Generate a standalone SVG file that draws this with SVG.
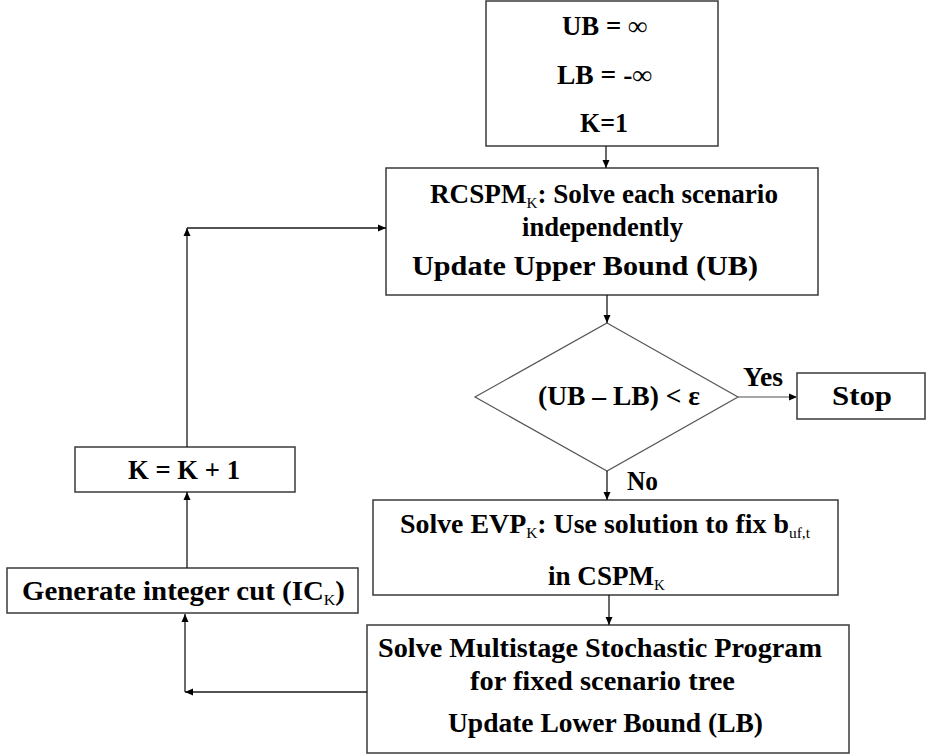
<svg xmlns="http://www.w3.org/2000/svg" width="927" height="756" viewBox="0 0 927 756">
  <style>
    .box { fill: #ffffff; stroke: #3a3a3a; stroke-width: 1.5; }
    .dia { fill: #ffffff; stroke: #555555; stroke-width: 1.2; }
    .t { font-family: "Liberation Serif", "Times New Roman", serif; font-weight: bold; font-size: 27px; fill: #000000; }
    .mid { text-anchor: middle; }
    .sub { font-weight: normal; font-size: 15px; }
    .wire { fill: none; stroke: #1a1a1a; stroke-width: 1.3; }
    .wire-light { fill: none; stroke: #8a8a8a; stroke-width: 1.3; }
  </style>
  <defs>
    <marker id="arrow" viewBox="0 0 8 8" refX="8" refY="4" markerWidth="8" markerHeight="8" markerUnits="userSpaceOnUse" orient="auto">
      <path d="M0,0.5 L8,4 L0,7.5 z" fill="#000000"/>
    </marker>
  </defs>

  <rect width="927" height="756" fill="#ffffff"/>

  <!-- initialisation -->
  <g id="init">
    <rect class="box" x="486" y="1" width="232" height="145"/>
    <text class="t" x="562" y="35" textLength="85" lengthAdjust="spacingAndGlyphs">UB = ∞</text>
    <text class="t" x="557" y="84" textLength="95" lengthAdjust="spacingAndGlyphs">LB = -∞</text>
    <text class="t" x="580" y="132" textLength="48" lengthAdjust="spacingAndGlyphs">K=1</text>
  </g>

  <!-- relaxed problem, upper bound -->
  <g id="rcspm">
    <rect class="box" x="386" y="168" width="432" height="127"/>
    <text class="t" x="430" y="203" textLength="348" lengthAdjust="spacingAndGlyphs">RCSPM<tspan class="sub" dy="5">K</tspan><tspan dy="-5">: Solve each scenario</tspan></text>
    <text class="t" x="522" y="236" textLength="161" lengthAdjust="spacingAndGlyphs">independently</text>
    <text class="t" x="412" y="275" textLength="346" lengthAdjust="spacingAndGlyphs">Update Upper Bound (UB)</text>
  </g>

  <!-- convergence test -->
  <g id="check">
    <polygon class="dia" points="607,323 738,397 607,471 475,397"/>
    <text class="t" x="538" y="405" textLength="162" lengthAdjust="spacingAndGlyphs">(UB – LB) &lt; ε</text>
  </g>

  <g id="stop">
    <rect class="box" x="797" y="373" width="128" height="46"/>
    <text class="t" x="832" y="405" textLength="60" lengthAdjust="spacingAndGlyphs">Stop</text>
  </g>

  <!-- expected value problem -->
  <g id="evp">
    <rect class="box" x="373" y="500" width="465" height="95"/>
    <text class="t" x="400" y="533" textLength="410" lengthAdjust="spacingAndGlyphs">Solve EVP<tspan class="sub" dy="5">K</tspan><tspan dy="-5">: Use solution to fix b</tspan><tspan class="sub" dy="5">uf,t</tspan></text>
    <text class="t" x="548" y="585" textLength="117" lengthAdjust="spacingAndGlyphs">in CSPM<tspan class="sub" dy="5">K</tspan></text>
  </g>

  <!-- multistage stochastic program, lower bound -->
  <g id="msp">
    <rect class="box" x="367" y="625" width="482" height="128"/>
    <text class="t" x="378" y="657" textLength="444" lengthAdjust="spacingAndGlyphs">Solve Multistage Stochastic Program</text>
    <text class="t" x="470" y="690" textLength="265" lengthAdjust="spacingAndGlyphs">for fixed scenario tree</text>
    <text class="t" x="448" y="732" textLength="315" lengthAdjust="spacingAndGlyphs">Update Lower Bound (LB)</text>
  </g>

  <!-- integer cut -->
  <g id="cut">
    <rect class="box" x="7" y="568" width="351" height="45"/>
    <text class="t" x="22" y="600" textLength="323" lengthAdjust="spacingAndGlyphs">Generate integer cut (IC<tspan class="sub" dy="5">K</tspan><tspan dy="-5">)</tspan></text>
  </g>

  <!-- iteration counter -->
  <g id="increment">
    <rect class="box" x="75" y="447" width="220" height="45"/>
    <text class="t" x="128" y="479" textLength="112" lengthAdjust="spacingAndGlyphs">K = K + 1</text>
  </g>

  <!-- connectors -->
  <g id="connectors">
    <path class="wire" d="M606,146 V168" marker-end="url(#arrow)"/>
    <path class="wire" d="M607,295 V323" marker-end="url(#arrow)"/>
    <path class="wire-light" d="M738,397 H797" marker-end="url(#arrow)"/>
    <text class="t" x="743" y="386" textLength="40" lengthAdjust="spacingAndGlyphs">Yes</text>
    <path class="wire" d="M607,471 V500" marker-end="url(#arrow)"/>
    <text class="t" x="627" y="490" textLength="31" lengthAdjust="spacingAndGlyphs">No</text>
    <path class="wire" d="M609,595 V625" marker-end="url(#arrow)"/>
    <path class="wire" d="M367,692 H185" marker-end="url(#arrow)"/>
    <path class="wire" d="M185,692 V614" marker-end="url(#arrow)"/>
    <path class="wire" d="M187,568 V492" marker-end="url(#arrow)"/>
    <path class="wire" d="M187,447 V228" marker-end="url(#arrow)"/>
    <path class="wire" d="M187,228 H386" marker-end="url(#arrow)"/>
  </g>
</svg>
